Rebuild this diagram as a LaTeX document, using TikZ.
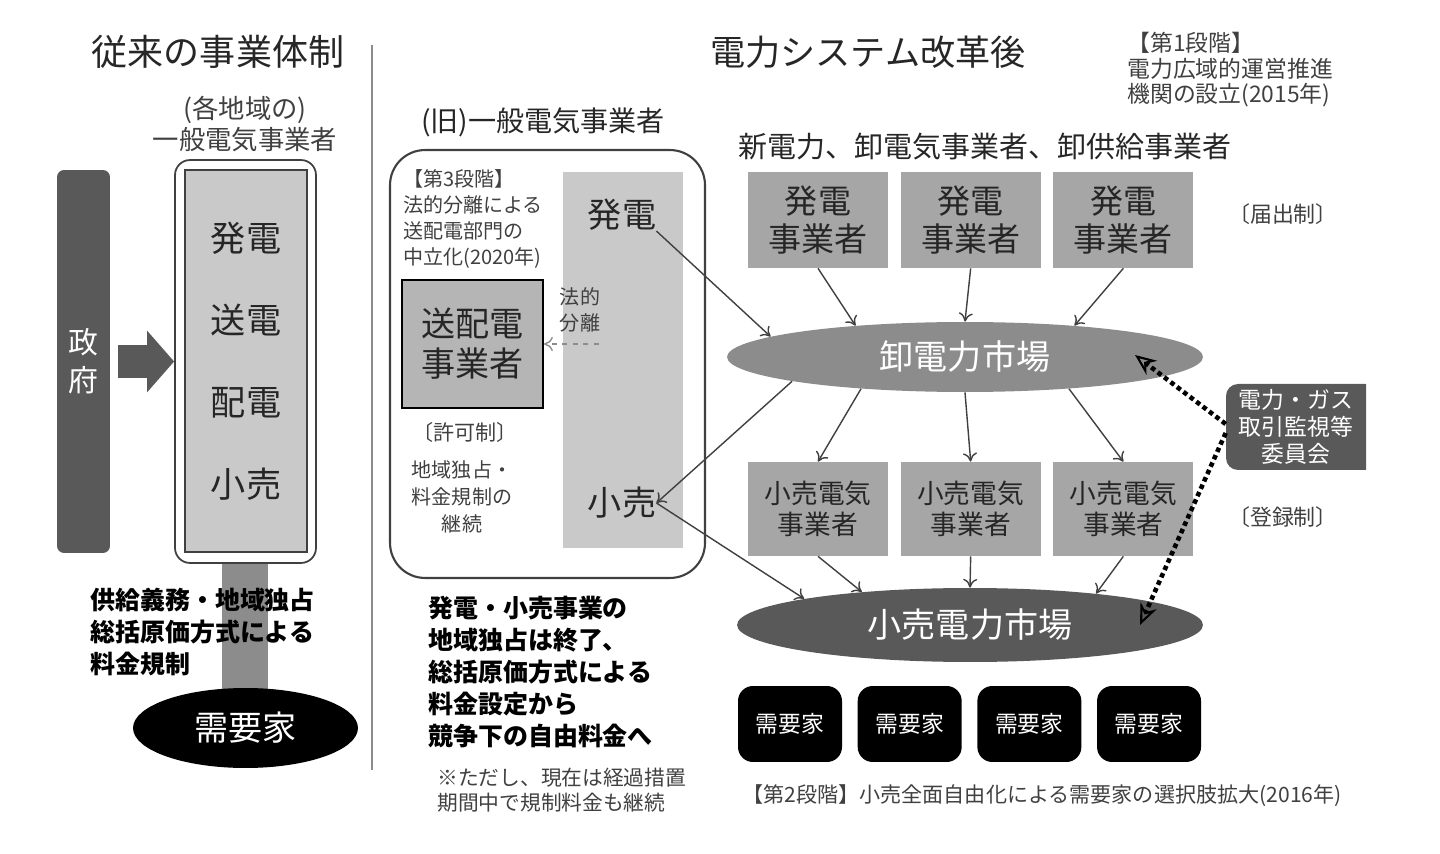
\documentclass[tikz,border=0pt]{standalone}
\usepackage{fontspec}
\setmainfont{Noto Sans CJK JP}
\usetikzlibrary{positioning,arrows.meta,shapes.geometric}

\definecolor{fuink}{HTML}{262626}
\definecolor{fugray}{HTML}{404040}
\definecolor{fudark}{HTML}{595959}
\definecolor{fumid}{HTML}{8C8C8C}
\definecolor{fubox}{HTML}{A6A6A6}
\definecolor{fulight}{HTML}{C9C9C9}
\definecolor{fusoden}{HTML}{B5B5B5}

\newcommand{\fsz}[2]{\fontsize{#1}{#2}\selectfont}

\tikzset{
  title/.style={font=\fsz{20.5}{24}},
  note/.style={font=\fsz{11.4}{14.8}, align=left, text=fugray},
  boldnote/.style={font=\bfseries\fsz{14.2}{18.2}, align=left, text=black},
  genbox/.style={fill=fubox, minimum width=2.8cm, minimum height=1.92cm,
    align=center, font=\fsz{18.8}{21.6}},
  retbox/.style={genbox, minimum height=1.88cm, font=\fsz{15.2}{17.6}},
  cust/.style={fill=black, rounded corners=0.3cm, minimum width=2.08cm,
    minimum height=1.52cm, text=white, font=\fsz{13}{15}},
  market/.style={ellipse, text=white, font=\fsz{19.4}{22}},
  flow/.style={draw=fugray, line width=0.8pt, -{To[length=5pt,width=8pt]}},
  watch/.style={draw=black, dotted, line width=2.6pt,
    -{Stealth[length=12pt,width=10pt,open,line width=1.2pt]}}
}

\begin{document}
\begin{tikzpicture}[x=0.02cm, y=-0.02cm, every node/.style={inner sep=0pt, text=fuink}]
\useasboundingbox (0,0) rectangle (1440,854);

% before the reform
\node[title] (t1) at (218,52) {従来の事業体制};
\draw[fumid, line width=1pt] (372,45) -- (372,770);
\node[font=\fsz{15}{18}, align=center, text=fugray] (ippan) at (245,124) {(各地域の)\\一般電気事業者};

\fill[fumid] (222,560) rectangle (268,705);
\node[draw=fugray, line width=1pt, fill=white, rounded corners=0.3cm,
  minimum width=2.82cm, minimum height=8.06cm] (oldbox) at (245.5,361.5) {};
\node[draw=fugray, line width=1pt, fill=fulight,
  minimum width=2.44cm, minimum height=7.64cm] (oldcol) at (246,361) {};
\node[font=\fsz{20}{24}] (o1) at (246,238) {発電};
\node[font=\fsz{20}{24}] (o2) at (246,320) {送電};
\node[font=\fsz{20}{24}] (o3) at (246,403) {配電};
\node[font=\fsz{20}{24}] (o4) at (246,484) {小売};

\node[fill=fudark, rounded corners=4pt, minimum width=1.06cm, minimum height=7.66cm,
  text=white, align=center, font=\fsz{17}{21.5}] (seifu) at (83.5,361.5) {政\\府};
\draw[fudark, line width=0.68cm, -{Triangle[length=0.54cm 0 0,width=1.2cm 0 0]}]
  ([xshift=0.16cm]seifu.east) -- (oldbox.west);

\node[boldnote, anchor=west] (duty) at (90,632) {供給義務・地域独占\\総括原価方式による\\料金規制};
\node[ellipse, fill=black, minimum width=4.5cm, minimum height=1.6cm,
  text=white, font=\fsz{19.4}{22}] (d0) at (245.5,728) {需要家};

% former utilities
\node[font=\fsz{16}{20}] (kyu) at (543,122) {(旧)一般電気事業者};
\node[draw=fugray, line width=1.2pt, rounded corners=0.7cm,
  minimum width=6.3cm, minimum height=8.56cm] (kyubox) at (547.5,364) {};
\node[fill=fulight, minimum width=2.4cm, minimum height=7.52cm] (mcol) at (623,360) {};
\node[font=\fsz{19.4}{22}] (mgen) at (622,215) {発電};
\node[font=\fsz{19.4}{22}] (mret) at (622,503) {小売};
\node[note, anchor=west] (step3) at (403,219) {【第3段階】\\法的分離による\\送配電部門の\\中立化(2020年)};
\node[draw=black, line width=1.2pt, fill=fusoden, minimum width=2.82cm, minimum height=2.56cm,
  align=center, font=\fsz{19.4}{22.8}] (soden) at (472.5,344) {送配電\\事業者};
\node[note, align=center] (bunri) at (580,310) {法的\\分離};
\draw[fumid, dashed, line width=0.8pt, -{To[length=5pt,width=8pt]}]
  ([xshift=1.1cm]soden.east) -- (soden.east);
\node[font=\fsz{12}{15}, text=fugray] (kyoka) at (465,432) {〔許可制〕};
\node[note, align=center, font=\fsz{11.4}{15.4}] (keizoku) at (462,497) {地域独占・\\料金規制の\\継続};
\node[boldnote, anchor=west] (end) at (428,672) {発電・小売事業の\\地域独占は終了、\\総括原価方式による\\料金設定から\\競争下の自由料金へ};
\node[note, anchor=west, font=\fsz{11.8}{14.2}] (tadashi) at (437,790) {※ただし、現在は経過措置\\期間中で規制料金も継続};

% after the reform
\node[font=\fsz{20}{24}] (t2) at (868,52) {電力システム改革後};
\node[note, anchor=west, font=\fsz{13}{14.5}] (step1) at (1127,70) {【第1段階】\\電力広域的運営推進\\機関の設立(2015年)};
\node[font=\fsz{16.5}{20}] (shin) at (985,147) {新電力、卸電気事業者、卸供給事業者};

\node[genbox] (g1) at (818,220) {発電\\事業者};
\node[genbox, right=0.24cm of g1] (g2) {発電\\事業者};
\node[genbox, right=0.24cm of g2] (g3) {発電\\事業者};
\node[font=\fsz{12.5}{15}, text=fugray] (todoke) at (1283,214) {〔届出制〕};

\node[market, fill=fumid, minimum width=9.52cm, minimum height=1.4cm] (wm) at (965,357) {卸電力市場};

\node[retbox] (r1) at (818,509) {小売電気\\事業者};
\node[retbox, right=0.24cm of r1] (r2) {小売電気\\事業者};
\node[retbox, right=0.24cm of r2] (r3) {小売電気\\事業者};
\node[font=\fsz{12.5}{15}, text=fugray] (toroku) at (1283,517) {〔登録制〕};

\node[market, fill=fudark, minimum width=9.32cm, minimum height=1.48cm] (rm) at (970,625) {小売電力市場};

\fill[fudark] (1366,384) -- (1366,470) [rounded corners=0.24cm] -- (1226,470) -- (1226,384) [sharp corners] -- cycle;
\node[minimum width=2.8cm, minimum height=1.72cm, align=center, text=white,
  font=\fsz{13}{15.4}] (iinkai) at (1296,427) {電力・ガス\\取引監視等\\委員会};
\coordinate (wmin) at (1135,355);
\coordinate (rmin) at (1140,625);

\node[cust] (c1) at (790,724) {需要家};
\node[cust, right=0.3cm of c1] (c2) {需要家};
\node[cust, right=0.3cm of c2] (c3) {需要家};
\node[cust, right=0.3cm of c3] (c4) {需要家};
\node[font=\fsz{12}{15}, text=fugray] (step2) at (1042,796) {【第2段階】小売全面自由化による需要家の選択肢拡大(2016年)};

% flows
\draw[flow] (g1.south) -- (wm.164);
\draw[flow] (g2.south) -- (wm.north);
\draw[flow] (g3.south) -- (wm.16);
\draw[flow] (mgen.south east) -- (wm.174);
\draw[flow] (wm.197) -- (r1.north);
\draw[flow] (wm.south) -- (r2.north);
\draw[flow] (wm.343) -- (r3.north);
\draw[flow] (wm.188) -- (mret.east);
\draw[flow] (r1.south) -- (rm.163);
\draw[flow] (r2.south) -- (rm.north);
\draw[flow] (r3.south) -- (rm.14);
\draw[flow] (mret.east) -- (rm.171);
\draw[watch] ([yshift=0.06cm]iinkai.west) -- (wmin);
\draw[watch] ([yshift=-0.12cm]iinkai.west) -- (rmin);
\end{tikzpicture}
\end{document}
